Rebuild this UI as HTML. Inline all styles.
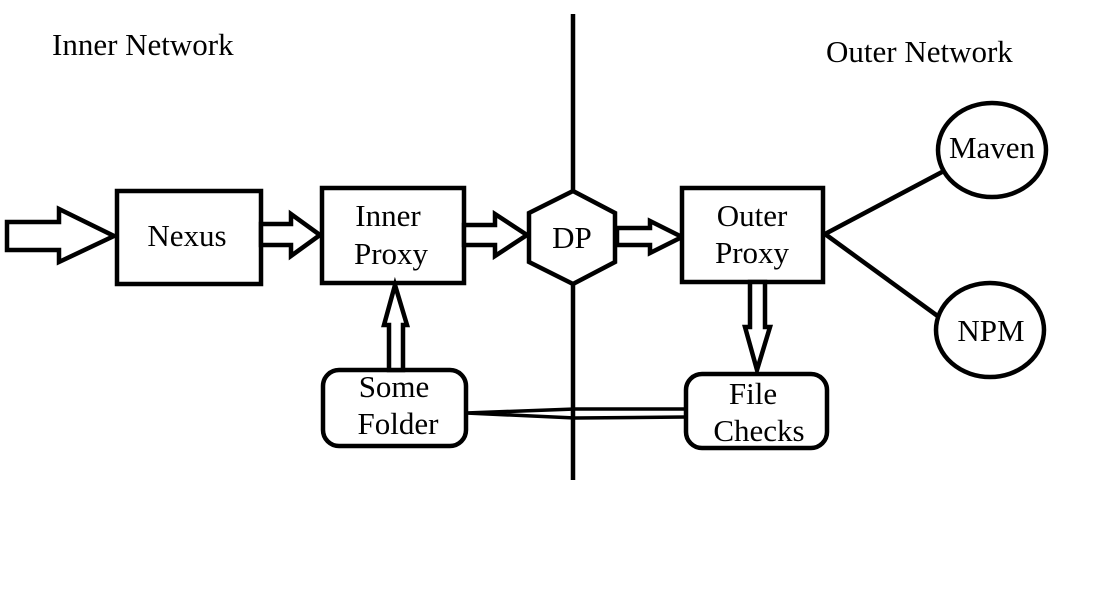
<!DOCTYPE html>
<html><head><style>
html,body{margin:0;padding:0;background:#fff;}
svg{display:block;}
</style></head><body>
<svg width="1112" height="593" viewBox="0 0 1112 593" xmlns="http://www.w3.org/2000/svg">
<g fill="none" stroke="#000" stroke-width="4.5" stroke-linejoin="miter">
<line x1="573" y1="14" x2="573" y2="191"/>
<line x1="573" y1="284" x2="573" y2="480"/>
<polygon points="7,222 59,222 59,209 114,236 59,262 59,250 7,250" fill="#fff"/>
<rect x="117" y="191" width="144" height="93" fill="#fff"/>
<polygon points="261,224 291,224 291,214 320,235 291,256 291,245 261,245" fill="#fff"/>
<rect x="322" y="188" width="142" height="95" fill="#fff"/>
<polygon points="464,225 495,225 495,214 527,235 495,256 495,245 464,245" fill="#fff"/>
<polygon points="573,191 615,213 615,262 573,284 529,262 529,213" fill="#fff"/>
<polygon points="617,228 650,228 650,221 682,237 650,253 650,245 617,245" fill="#fff"/>
<rect x="682" y="188" width="141" height="94" fill="#fff"/>
<polygon points="750,282 765,282 765,327 770,327 757,370 745,327 750,327" fill="#fff"/>
<rect x="686" y="374" width="141" height="74" rx="16" fill="#fff"/>
<rect x="323" y="370" width="143" height="76" rx="16" fill="#fff"/>
<polygon points="389,370 389,325 384,325 395,285 407,325 403,325 403,370" fill="#fff"/>
<polyline points="686,409 575,409 466,413 575,418 686,417" stroke-width="3.5"/>
<line x1="825" y1="234" x2="942" y2="172"/>
<line x1="825" y1="234" x2="939" y2="317"/>
<ellipse cx="992" cy="150" rx="54" ry="47" fill="#fff"/>
<ellipse cx="990" cy="330" rx="54" ry="47" fill="#fff"/>
</g>
<g font-family="Liberation Serif, serif" font-size="31" fill="#000">
<text x="52" y="55">Inner Network</text>
<text x="826" y="62">Outer Network</text>
<text x="187" y="246" text-anchor="middle">Nexus</text>
<text x="388" y="226" text-anchor="middle">Inner</text>
<text x="391" y="264" text-anchor="middle">Proxy</text>
<text x="572" y="248" text-anchor="middle">DP</text>
<text x="752" y="226" text-anchor="middle">Outer</text>
<text x="752" y="263" text-anchor="middle">Proxy</text>
<text x="394" y="397" text-anchor="middle">Some</text>
<text x="398" y="434" text-anchor="middle">Folder</text>
<text x="753" y="404" text-anchor="middle">File</text>
<text x="759" y="441" text-anchor="middle">Checks</text>
<text x="992" y="158" text-anchor="middle">Maven</text>
<text x="991" y="341" text-anchor="middle">NPM</text>
</g>
</svg>
</body></html>
